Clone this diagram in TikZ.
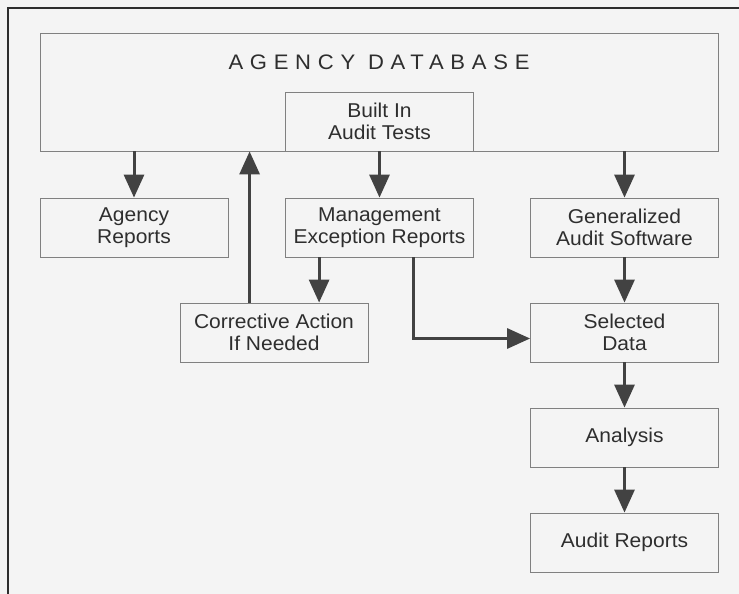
\documentclass[tikz,border=0pt]{standalone}
\usepackage{fontspec}
\setmainfont[FakeStretch=1.05]{Liberation Sans}
\usetikzlibrary{arrows.meta,calc}
\definecolor{bg}{HTML}{F4F4F4}
\definecolor{ink}{HTML}{2E2E2E}
\definecolor{arrowc}{HTML}{424242}
\definecolor{boxline}{HTML}{808080}
\begin{document}
\begin{tikzpicture}[x=1pt,y=-1pt,
  box/.style={draw=boxline,line width=0.8pt,fill=bg,rectangle,inner sep=0pt,
    minimum width=188pt,minimum height=59pt,align=center,text=ink,
    font=\fontsize{20}{22}\selectfont},
  arr/.style={draw=arrowc,line width=3pt,-{Triangle[length=23pt,width=20pt]}},
  frameline/.style={draw=ink,line width=1.6pt}]
\useasboundingbox[fill=bg] (0,0) rectangle (739,594);
% outer frame
\coordinate (ftl) at (8,8);
\coordinate (fbl) at (8,600);
\coordinate (ftr) at (745,8);
\draw[frameline] (fbl) -- (ftl) -- (ftr);
% database
\node[box,minimum width=678pt,minimum height=118pt] (db) at (379,92) {};
\node[text=ink,font=\fontsize{21}{24}\selectfont\addfontfeature{LetterSpace=32}] (dbtitle) at (379,62) {AGENCY DATABASE};
\node[box] (built) at (379.5,121.5) {Built In\\Audit Tests};
% boxes
\node[box] (agrep) at (134,227.5) {Agency\\Reports};
\node[box] (mgmt) at (379.5,227.5) {Management\\Exception Reports};
\node[box] (gen) at (624.5,227.5) {Generalized\\Audit Software};
\node[box] (corr) at (274,332.5) {Corrective Action\\If Needed};
\node[box] (sel) at (624.5,332.5) {Selected\\Data};
\node[box] (ana) at (624.5,437.5) {Analysis};
\node[box] (aud) at (624.5,542.5) {Audit Reports};
% arrows
\draw[arr] (agrep.north |- db.south) -- (agrep.north);
\draw[arr] (built.south) -- (mgmt.north);
\draw[arr] (gen.north |- db.south) -- (gen.north);
\draw[arr] ([xshift=70pt]corr.north west) -- ([xshift=70pt]corr.north west |- db.south);
\draw[arr] ([xshift=34pt]mgmt.south west) -- ([xshift=34pt]mgmt.south west |- corr.north);
\draw[arr] ([xshift=128pt]mgmt.south west) |- ([yshift=-6pt]sel.west);
\draw[arr] (gen.south) -- (sel.north);
\draw[arr] (sel.south) -- (ana.north);
\draw[arr] (ana.south) -- (aud.north);
\end{tikzpicture}
\end{document}
